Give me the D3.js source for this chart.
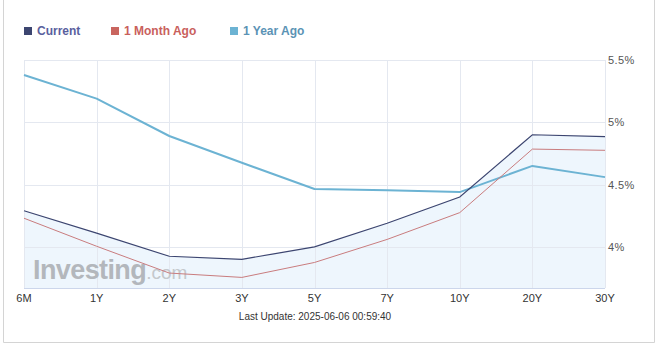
<!DOCTYPE html>
<html>
<head>
<meta charset="utf-8">
<script src="https://cdn.jsdelivr.net/npm/d3@7"></script>
<style>
  html, body { margin: 0; padding: 0; background: #fff; }
  svg { display: block; font-family: Arial, "Liberation Sans", sans-serif; }
</style>
</head>
<body>
<svg id="chart" width="660" height="350"></svg>
<script>
// Yield curve: maturities and yields (%)
const maturities = ["6M", "1Y", "2Y", "3Y", "5Y", "7Y", "10Y", "20Y", "30Y"];
const current    = [4.29, 4.11, 3.925, 3.90, 4.00, 4.19, 4.40, 4.90, 4.885];
const monthAgo   = [4.23, 4.005, 3.79, 3.755, 3.875, 4.06, 4.275, 4.785, 4.775];
const yearAgo    = [5.38, 5.19, 4.89, 4.675, 4.465, 4.455, 4.44, 4.65, 4.56];
const yTicks     = [4, 4.5, 5, 5.5];
const yTickLabels = ["4%", "4.5%", "5%", "5.5%"];
const seriesNames = ["Current", "1 Month Ago", "1 Year Ago"];
const lastUpdate = "Last Update: 2025-06-06 00:59:40";

const svg = d3.select("#chart");
const plot = { left: 24, right: 605, top: 60, bottom: 288 };

// outer frame
svg.append("path")
  .attr("d", "M3.5,0 V342.5 H654.5 V0")
  .attr("fill", "none").attr("stroke", "#d4d4d4");

const x = d3.scalePoint().domain(maturities).range([plot.left, plot.right]);
const y = d3.scaleLinear().domain([3.67, 5.5]).range([plot.bottom, plot.top]);

// area under current curve
const area = d3.area()
  .x((d, i) => x(maturities[i]))
  .y0(plot.bottom)
  .y1(d => y(d));
svg.append("path").datum(current).attr("d", area)
  .attr("fill", "#eef6fd");

// grid
svg.append("g").selectAll("line").data(maturities).join("line")
  .attr("x1", d => Math.round(x(d)) + 0.5).attr("x2", d => Math.round(x(d)) + 0.5)
  .attr("y1", plot.top).attr("y2", plot.bottom)
  .attr("stroke", "#e4e8f0");
svg.append("g").selectAll("line").data(yTicks).join("line")
  .attr("x1", plot.left).attr("x2", plot.right)
  .attr("y1", d => Math.round(y(d)) + 0.5).attr("y2", d => Math.round(y(d)) + 0.5)
  .attr("stroke", "#e4e8f0");

// watermark
const wm = svg.append("text").attr("x", 33).attr("y", 279)
  .attr("fill", "#b3b7bc").attr("font-family", "Arial, 'Liberation Sans', sans-serif");
wm.append("tspan").attr("font-size", 27).attr("font-weight", "bold").attr("letter-spacing", -0.6).text("Investing");
wm.append("tspan").attr("font-size", 19).attr("fill", "#c4c8cc").text(".com");

// bottom axis line
svg.append("line")
  .attr("x1", plot.left).attr("x2", plot.right)
  .attr("y1", plot.bottom + 0.5).attr("y2", plot.bottom + 0.5)
  .attr("stroke", "#ccd6eb");

const line = d3.line().x((d, i) => x(maturities[i])).y(d => y(d));
svg.append("path").datum(yearAgo).attr("d", line)
  .attr("fill", "none").attr("stroke", "#6cb3d3").attr("stroke-width", 2).attr("stroke-linejoin", "round");
svg.append("path").datum(monthAgo).attr("d", line)
  .attr("fill", "none").attr("stroke", "#c97c7e").attr("stroke-width", 1);
svg.append("path").datum(current).attr("d", line)
  .attr("fill", "none").attr("stroke", "#3c4570").attr("stroke-width", 1.2);

// y labels on the right
svg.append("g").selectAll("text").data(yTicks).join("text")
  .attr("x", plot.right + 3).attr("y", d => y(d) + 4)
  .attr("font-size", 11).attr("fill", "#555").attr("letter-spacing", 0.4)
  .text((d, i) => yTickLabels[i]);

// x labels
svg.append("g").selectAll("text").data(maturities).join("text")
  .attr("x", d => x(d)).attr("y", 302)
  .attr("text-anchor", "middle").attr("font-size", 11).attr("fill", "#333")
  .text(d => d);

// footer
svg.append("text").attr("x", 315).attr("y", 320)
  .attr("text-anchor", "middle").attr("font-size", 10).attr("fill", "#333")
  .text(lastUpdate);

// legend
const legend = [
  { name: seriesNames[0], sq: "#3c4570", txt: "#5a5f9e", x: 24 },
  { name: seriesNames[1], sq: "#c9655f", txt: "#c9605c", x: 111 },
  { name: seriesNames[2], sq: "#6cb3d3", txt: "#5b93b5", x: 230 }
];
const lg = svg.append("g").selectAll("g").data(legend).join("g")
  .attr("transform", d => `translate(${d.x},0)`);
lg.append("rect").attr("x", 0).attr("y", 27).attr("width", 8).attr("height", 8).attr("fill", d => d.sq);
lg.append("text").attr("x", 13).attr("y", 35)
  .attr("font-size", 12).attr("font-weight", "bold").attr("fill", d => d.txt)
  .text(d => d.name);
</script>
</body>
</html>
